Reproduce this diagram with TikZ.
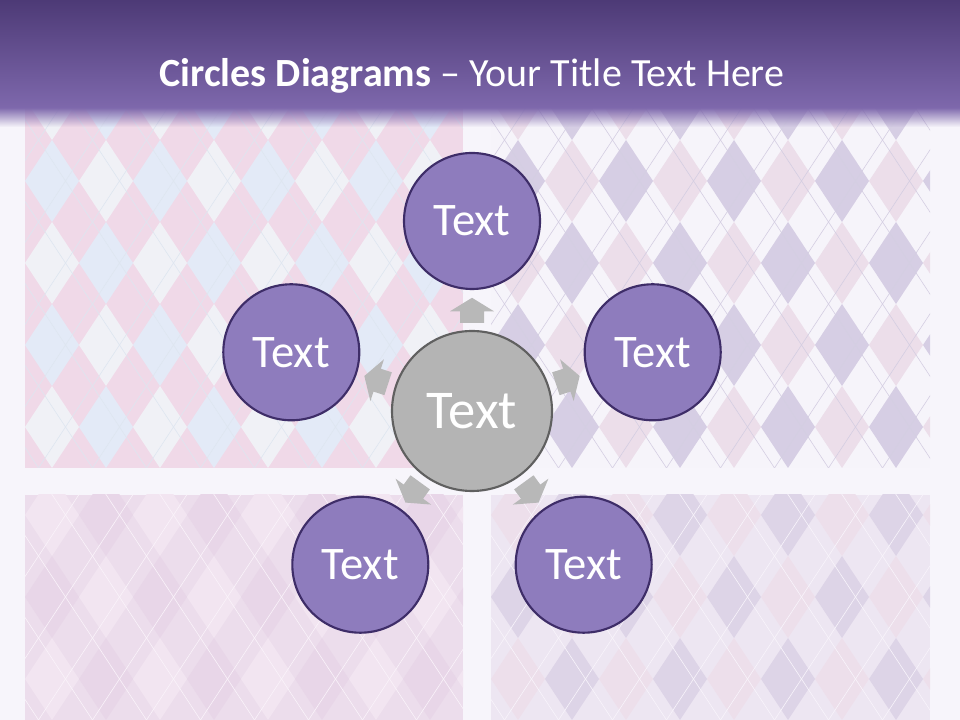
\documentclass[tikz,border=0pt]{standalone}
\usepackage{fontspec}
\setmainfont{Carlito}
\usepackage{tikz}
\usetikzlibrary{calc,fadings}
\definecolor{backlilac}{RGB}{247,245,251}
\definecolor{titletop}{RGB}{77,58,118}
\definecolor{titlebot}{RGB}{126,104,172}
\definecolor{petalfill}{RGB}{142,124,189}
\definecolor{petalline}{RGB}{62,45,104}
\definecolor{hubfill}{RGB}{180,180,180}
\definecolor{hubline}{RGB}{96,96,96}
\definecolor{pointergray}{RGB}{184,184,184}
\definecolor{tlpink}{RGB}{240,217,232}
\definecolor{tlblue}{RGB}{227,234,247}
\definecolor{tlwhite}{RGB}{240,241,246}
\definecolor{tlline}{RGB}{222,230,240}
\definecolor{trlav}{RGB}{214,206,228}
\definecolor{trpink}{RGB}{236,222,234}
\definecolor{trwhite}{RGB}{246,244,250}
\definecolor{trline}{RGB}{212,206,226}
\definecolor{blmauve}{RGB}{232,214,232}
\definecolor{bllight}{RGB}{242,229,241}
\definecolor{blmid}{RGB}{236,221,236}
\definecolor{blline}{RGB}{250,243,250}
\definecolor{brlav}{RGB}{221,212,231}
\definecolor{brlight}{RGB}{237,230,242}
\definecolor{brpink}{RGB}{237,223,235}
\definecolor{brline}{RGB}{248,244,251}

\tikzfading[name=titlefade, top color=transparent!0, bottom color=transparent!100]

\tikzset{
  petal/.style={circle, fill=petalfill, draw=petalline, line width=1.6pt,
    minimum size=102pt, inner sep=0pt, text=white, font=\fontsize{35}{35}\selectfont},
  hub/.style={circle, fill=hubfill, draw=hubline, line width=1.6pt,
    minimum size=120pt, inner sep=0pt, text=white, font=\fontsize{41}{41}\selectfont},
  pointer/.style={fill=pointergray}
}

% argyle panel: x0, y0, x1, y1, base, second, third, line colour
\newcommand{\argyle}[8]{%
  \begin{scope}
    \clip (#1,#2) rectangle (#3,#4);
    \fill[#5] (#1,#2) rectangle (#3,#4);
    \foreach \j in {1,3,...,9}{
      \foreach \i in {-1,...,8}{
        \pgfmathsetmacro{\cx}{#1+\i*54+27}
        \pgfmathsetmacro{\cy}{#2+\j*41}
        \pgfmathtruncatemacro{\ci}{mod(\i+1+floor(\j/2),2)}
        \ifcase\ci\def\dcol{#6}\or\def\dcol{#7}\fi
        \fill[\dcol] (\cx,\cy-41) -- (\cx+27,\cy) -- (\cx,\cy+41) -- (\cx-27,\cy) -- cycle;
      }
    }
    \foreach \k in {-6,...,14}{
      \draw[#8, line width=0.45pt] (#1+\k*54+13.5,#2) -- ++(270,410);
      \draw[#8, line width=0.45pt] (#1+\k*54+13.5,#2) -- ++(-270,410);
    }
  \end{scope}}

\begin{document}
\begin{tikzpicture}[x=0.75pt,y=0.75pt]
  \useasboundingbox (0,0) rectangle (960,720);
  \fill[backlilac] (0,0) rectangle (960,720);
  % background panels
  \argyle{25}{252}{463}{612}{tlpink}{tlblue}{tlwhite}{tlline}
  \argyle{491}{252}{930}{612}{trwhite}{trlav}{trpink}{trline}
  \argyle{25}{0}{463}{225}{blmid}{blmauve}{bllight}{blline}
  \argyle{491}{0}{930}{225}{brlight}{brlav}{brpink}{brline}
  % title bar
  \shade[top color=titletop, bottom color=titlebot] (0,612) rectangle (960,720);
  \fill[titlebot, path fading=titlefade] (0,593) rectangle (960,612.5);
  \node[text=white, font=\fontsize{30}{30}\selectfont] (title) at (472,644)
    {\textbf{Circles Diagrams} – Your Title Text Here};
  % circles
  \node[hub] (hub) at (472,309) {Text};
  \foreach \ang/\nm in {90/north,18/east,306/southeast,234/southwest,162/west}{
    \node[petal] (\nm) at ($(hub)+(\ang:190)$) {Text};
    \fill[pointer, shift={($(hub)!0.53!(\nm)$)}, rotate=\ang-90]
      (-12,-12.5) -- (12,-12.5) -- (12,-1) -- (22,-1) -- (0,12.5) -- (-22,-1) -- (-12,-1) -- cycle;
  }
\end{tikzpicture}
\end{document}
